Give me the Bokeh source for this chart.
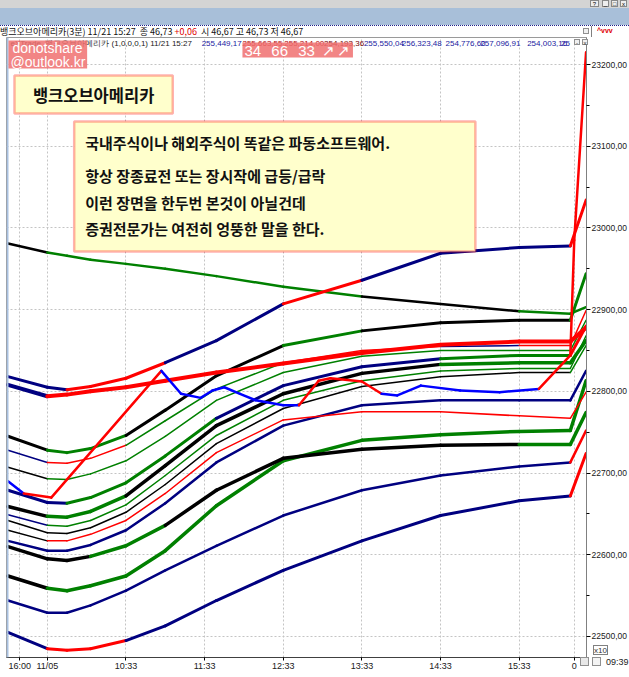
from bokeh.plotting import figure
from bokeh.models import Range1d, FixedTicker, BoxAnnotation, Label, Span, Div
from bokeh.layouts import column
from bokeh.embed import file_html
from bokeh.resources import INLINE

# ---------------- data (bar index of 3-minute bars, price values) ----------------
BARS = [-10, 0, 5, 11, 20, 30, 43, 60, 80, 100, 120, 133, 137]

MA01 = [22981, 22970, 22966, 22961, 22956, 22950, 22941, 22928, 22916, 22907, 22898, 22895, 22903]
MA02 = [22818, 22805, 22802, 22806, 22816, 22835, 22862, 22907, 22936, 22969, 22976, 22978, 23034]
MA03 = [22808, 22794, 22796, 22800, 22805, 22813, 22823, 22834, 22847, 22857, 22861, 22861, 22878]
MA05 = [22745, 22728, 22725, 22730, 22746, 22777, 22819, 22856, 22874, 22884, 22887, 22887, 22944]
MA06 = [22728, 22713, 22712, 22718, 22734, 22764, 22803, 22835, 22850, 22855, 22856, 22856, 22899]
MA07 = [22707, 22693, 22692, 22699, 22715, 22745, 22789, 22823, 22843, 22850, 22850, 22850, 22887]
MA08 = [22679, 22664, 22663, 22670, 22688, 22721, 22767, 22807, 22830, 22840, 22844, 22844, 22880]
MA09 = [22659, 22647, 22646, 22653, 22672, 22709, 22758, 22797, 22822, 22833, 22835, 22835, 22862]
MA10 = [22649, 22636, 22635, 22642, 22661, 22697, 22746, 22789, 22813, 22825, 22828, 22828, 22868]
MA11 = [22642, 22627, 22626, 22633, 22652, 22686, 22736, 22779, 22806, 22818, 22823, 22823, 22856]
MA12 = [22630, 22617, 22617, 22625, 22642, 22675, 22725, 22765, 22775, 22775, 22770, 22767, 22799]
MA13 = [22617, 22605, 22605, 22612, 22630, 22663, 22713, 22758, 22783, 22789, 22789, 22789, 22825]
MA14 = [22574, 22559, 22556, 22562, 22574, 22605, 22660, 22715, 22740, 22747, 22751, 22752, 22813]
MA15 = [22610, 22595, 22593, 22598, 22611, 22636, 22679, 22718, 22729, 22734, 22735, 22735, 22774]
MA16 = [22544, 22529, 22529, 22538, 22556, 22581, 22611, 22648, 22679, 22697, 22708, 22713, 22752]
MA17 = [22505, 22485, 22483, 22485, 22495, 22513, 22544, 22581, 22617, 22648, 22666, 22672, 22724]

PRICE_BARS = [-10, -6, 1, 29, 34, 39, 42, 45, 49, 53, 60, 64, 69, 72, 80, 85, 89, 95, 105, 115, 125, 133, 134, 137]
PRICE = [22690, 22675, 22670, 22825, 22797, 22792, 22801, 22805, 22797, 22789, 22783, 22783,
         22813, 22816, 22812, 22797, 22795, 22807, 22801, 22799, 22803, 22844, 22985, 23215]

X_TICKS = [-7, 0, 20, 40, 60, 80, 100, 120, 134]
X_LABELS = ["16:00", "11/05", "10:33", "11:33", "12:33", "13:33", "14:33", "15:33", "0"]
Y_TICKS = [22500, 22600, 22700, 22800, 22900, 23000, 23100, 23200]
Y_LABELS = ["22500,00", "22600,00", "22700,00", "22800,00", "22900,00", "23000,00", "23100,00", "23200,00"]
Y_MINOR = [22450, 22550, 22650, 22750, 22850, 22950, 23050, 23150]

HEADER_VALUES = ["255,449,17", "255,663,55", "255,214,00", "254,193,36", "255,550,04",
                 "256,323,48", "254,776,60", "257,096,91", "254,003,16", "25"]

# ---------------- styles ----------------
COL = {"k": "#000000", "g": "#008000", "n": "#000080", "r": "#ff0000", "b": "#0000ff"}
LINES = [
    (MA17, "nrrrnnnnnnnr", 3.0),
    (MA16, "nnnnnnnnnnnr", 2.5),
    (MA14, "kggggggggggg", 3.5),
    (MA15, "kkkggkkkkkgg", 3.5),
    (MA13, "nnnnnnnnnnnn", 2.5),
    (MA12, "krrrrrrrrrrr", 1.5),
    (MA11, "kkkkkkkkkkkg", 1.5),
    (MA10, "nggggggggggg", 1.5),
    (MA09, "kgggkkkkkggg", 3.5),
    (MA08, "nnggggnnnggr", 3.0),
    (MA07, "kggggggggggg", 1.5),
    (MA06, "nrrrgggrrnrr", 1.5),
    (MA05, "kgggkkkgkkkg", 3.0),
    (MA01, "kgggggggkkgg", 2.5),
    (MA03, "nrrrrrrrrrrr", 4.0),
    (MA02, "nnrrrnnrnnnr", 3.0),
]
PRICE_CODES = "brrbbbbbbbbrrrrbbbbbrrr"

SANS = "Liberation Sans"
KR = "Noto Sans CJK KR"

# pixel helpers for annotation placement (screen px of the reference -> plot units)
def bx(px):
    return (px - 47) / 3.95

def vy(py):
    return 23200 - (py - 64) / 0.8171

p = figure(width=629, height=640, output_backend="svg", toolbar_location=None,
           x_range=Range1d(bx(6), bx(588.6)), y_range=Range1d(vy(657), vy(37)),
           y_axis_location="right", min_border_left=6, min_border_top=0,
           min_border_right=38, min_border_bottom=20)
p.outline_line_color = "#9a9a9a"
p.background_fill_color = "white"
p.border_fill_color = "white"

# axes
xa = p.xaxis[0]
xa.ticker = FixedTicker(ticks=X_TICKS)
xa.major_label_overrides = {t: l for t, l in zip(X_TICKS, X_LABELS)}
xa.major_label_text_font = SANS
xa.major_label_text_font_size = "9px"
xa.major_label_text_color = "#202020"
xa.major_tick_out = 3
xa.major_tick_in = 0
xa.minor_tick_out = 0
xa.major_label_standoff = 0
xa.axis_line_color = "#404040"

ya = p.yaxis[0]
ya.ticker = FixedTicker(ticks=Y_TICKS, minor_ticks=Y_MINOR)
ya.major_label_overrides = {t: l for t, l in zip(Y_TICKS, Y_LABELS)}
ya.major_label_text_font = SANS
ya.major_label_text_font_size = "8.5px"
ya.major_label_text_color = "#202020"
ya.major_tick_out = 4
ya.major_tick_in = 0
ya.minor_tick_out = 3
ya.minor_tick_in = 0
ya.major_label_standoff = 1
ya.axis_line_color = "#808080"

for g in (p.xgrid[0], p.ygrid[0]):
    g.grid_line_color = "#c4c4c4"
    g.grid_line_dash = "2 2"
    g.grid_line_width = 1

p.add_layout(Span(location=bx(7), dimension="height", line_color="#a9c1e0", line_width=2))


def draw(xs, ys, codes, w):
    segx = [[xs[i], xs[i + 1]] for i in range(len(xs) - 1)]
    segy = [[ys[i], ys[i + 1]] for i in range(len(ys) - 1)]
    cols = [COL[c] for c in codes]
    p.multi_line(segx, segy, line_color=cols, line_width=w, line_cap="round", line_join="round")


for vals, codes, w in LINES:
    draw(BARS, vals, codes, w)
draw(PRICE_BARS, PRICE, PRICE_CODES, 2.5)

# header row 2 (inside chart pane)
p.add_layout(Label(x=bx(10), y=vy(43), text="eXTrade_뱅크오브아메리카 (1,0,0,0,1) 11/21 15:27",
                   text_font=SANS, text_font_size="8px", text_color="#202020", text_baseline="middle"))
hx = [202, 243, 285, 325, 365, 403, 447, 482, 529, 563]
hc = ["#1a1aa0", "#b00000", "#b00000", "#700000", "#1a1aa0", "#1a1aa0", "#1a1aa0", "#1a1aa0", "#1a1aa0", "#1a1aa0"]
for x_, t_, c_ in zip(hx, HEADER_VALUES, hc):
    p.add_layout(Label(x=bx(x_), y=vy(43), text=t_, text_font=SANS, text_font_size="8px",
                       text_color=c_, text_baseline="middle"))

# pink watermark boxes
p.add_layout(BoxAnnotation(left=bx(8), right=bx(87), top=vy(40), bottom=vy(68),
                           fill_color="#f07070", fill_alpha=0.85, line_color=None))
p.add_layout(Label(x=bx(12), y=vy(47), text="donotshare", text_color="white",
                   text_font=SANS, text_font_size="14px", text_baseline="middle"))
p.add_layout(Label(x=bx(10), y=vy(61), text="@outlook.kr", text_color="white",
                   text_font=SANS, text_font_size="14px", text_baseline="middle"))
p.add_layout(BoxAnnotation(left=bx(243), right=bx(354), top=vy(42), bottom=vy(57),
                           fill_color="#f07070", fill_alpha=0.85, line_color=None))
for x_, t_ in zip([245, 272, 299, 323, 338], ["34", "66", "33", "↗", "↗"]):
    p.add_layout(Label(x=bx(x_), y=vy(50), text=t_, text_color="white",
                       text_font=SANS, text_font_size="15px", text_baseline="middle"))

# title box
p.add_layout(BoxAnnotation(left=bx(14), right=bx(173), top=vy(75), bottom=vy(113),
                           fill_color="#ffffcc", fill_alpha=1.0, line_color="#ff0000", line_width=2.5))
p.add_layout(Label(x=bx(93.5), y=vy(94), text="뱅크오브아메리카", text_font=KR, text_font_style="bold",
                   text_font_size="16.5px", text_color="#111111", text_align="center", text_baseline="middle"))

# comment box
p.add_layout(BoxAnnotation(left=bx(74), right=bx(477), top=vy(121), bottom=vy(251),
                           fill_color="#ffffcc", fill_alpha=1.0, line_color="#ff0000", line_width=2.5))
NOTE = ["국내주식이나 해외주식이 똑같은 파동소프트웨어.",
        "항상 장종료전 또는 장시작에 급등/급락",
        "이런 장면을 한두번 본것이 아닐건데",
        "증권전문가는 여전히 엉뚱한 말을 한다."]
for t_, yy in zip(NOTE, [142, 175, 202, 228]):
    p.add_layout(Label(x=bx(85), y=vy(yy), text=t_, text_font=KR, text_font_style="bold",
                       text_font_size="15px", text_color="#111111", text_baseline="middle"))

BTN = ('position:absolute;width:6px;height:6px;border:1px solid #909090;background:#f0f0f0;'
       'font:6px sans-serif;line-height:6px;text-align:center;color:#333;z-index:50;')
HEADER_HTML = (
    '<div style="position:relative;width:629px;height:37px;background:#ffffff;">'
    '<div style="position:absolute;left:0;top:0;width:629px;height:8px;background:#d4d4d4;"></div>'
    '<div style="position:absolute;left:590px;top:0;width:9px;height:7px;border:1px solid #888;background:#eee;'
    'font:6px sans-serif;line-height:7px;text-align:center;">?</div>'
    '<div style="position:absolute;left:602px;top:0;width:7px;height:7px;border:1px solid #888;background:#eee;'
    'font:6px sans-serif;line-height:7px;text-align:center;">_</div>'
    '<div style="position:absolute;left:611px;top:0;width:7px;height:7px;border:1px solid #888;background:#eee;'
    'font:6px sans-serif;line-height:7px;text-align:center;">□</div>'
    '<div style="position:absolute;left:620px;top:0;width:7px;height:7px;border:1px solid #888;background:#eee;'
    'font:6px sans-serif;line-height:7px;text-align:center;">x</div>'
    '<div style="position:absolute;left:0;top:8px;width:629px;height:17px;background:#a8bfd9;"></div>'
    '<div style="position:absolute;left:0;top:25px;width:629px;height:0;border-top:1px dotted #20208a;"></div>'
    '<div style="position:absolute;left:591px;top:26px;width:1px;height:11px;background:#808080;"></div>'
    '<div style="position:absolute;left:0;top:26px;font-family:\'Noto Sans CJK KR\',sans-serif;'
    'font-size:9px;line-height:11px;white-space:nowrap;color:#111;">'
    '뱅크오브아메리카(3분) 11/21 15:27 &nbsp;종 46,73 <span style="color:#e00000">+0,06</span>'
    ' &nbsp;시 46,67 고 46,73 저 46,67</div>'
    '<div style="position:absolute;left:597px;top:26px;font-family:sans-serif;font-size:7px;'
    'line-height:10px;color:#e00000;font-weight:bold;">^vvv</div>'
    '<div style="' + BTN + 'left:583px;top:28px;"></div>'
    # small pane buttons and items drawn over the chart corners
    '<div style="' + BTN + 'left:574px;top:39px;">-</div>'
    '<div style="' + BTN + 'left:582px;top:39px;">x</div>'
    '<div style="position:absolute;left:593px;top:645px;width:15px;height:10px;border:1px solid #808080;'
    'background:#ffffff;font:8px \'Liberation Sans\';line-height:10px;text-align:center;color:#333;z-index:50;">x10</div>'
    '<div style="position:absolute;left:580px;top:657px;width:9px;height:9px;border:1px solid #909090;'
    'background:#e8e8e8;z-index:50;"></div>'
    '<div style="position:absolute;left:592px;top:657px;width:9px;height:9px;border:1px solid #909090;'
    'background:#f4f4f4;z-index:50;"></div>'
    '<div style="position:absolute;left:606px;top:657px;font:9px \'Liberation Sans\';line-height:11px;'
    'color:#222;z-index:50;">09:39</div>'
    '</div>'
)
header = Div(text=HEADER_HTML, width=629, height=37, margin=(0, 0, 0, 0),
             styles={"overflow": "visible", "z-index": "10"})

layout = column(header, p, spacing=0)
open("out.html", "w").write(file_html(layout, INLINE))
